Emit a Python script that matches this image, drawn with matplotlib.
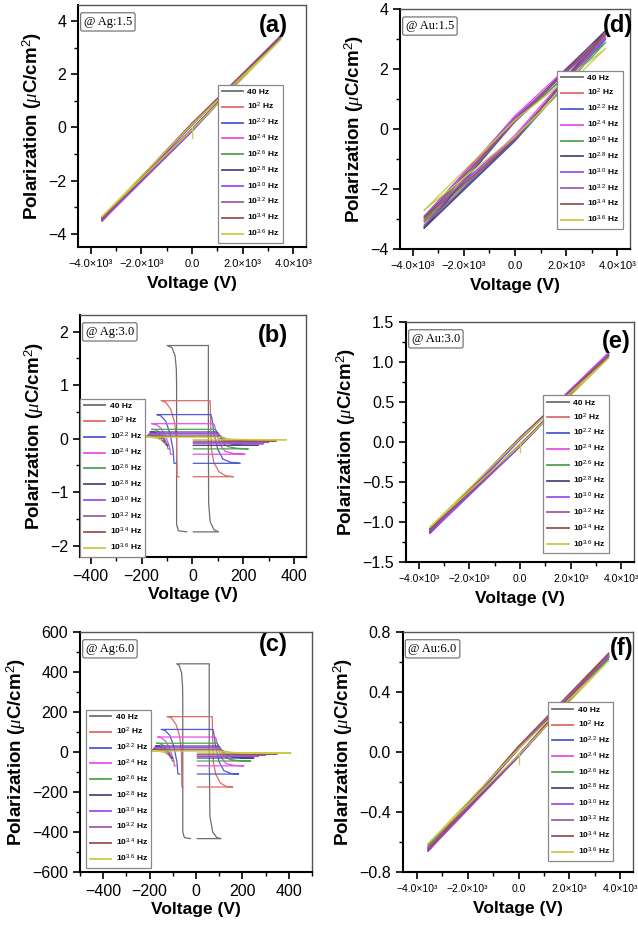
import matplotlib
matplotlib.use("Agg")
import matplotlib.pyplot as plt
from matplotlib.ticker import MultipleLocator

plt.rcParams["font.family"] = ["Liberation Sans", "DejaVu Sans"]
plt.rcParams["mathtext.fontset"] = "custom"
plt.rcParams["mathtext.rm"] = "Liberation Sans"
plt.rcParams["mathtext.it"] = "Liberation Serif:italic"
plt.rcParams["mathtext.bf"] = "Liberation Sans:bold"

# frequencies (legend) and colours
LABELS = ["40 Hz", "10$^{2}$ Hz", "10$^{2.2}$ Hz", "10$^{2.4}$ Hz", "10$^{2.6}$ Hz",
          "10$^{2.8}$ Hz", "10$^{3.0}$ Hz", "10$^{3.2}$ Hz", "10$^{3.4}$ Hz", "10$^{3.6}$ Hz"]
COLORS = ["#6e6e6e", "#e06a6a", "#4b5bd4", "#e651e6", "#4fa24f",
          "#4a4a78", "#9a4ff0", "#9b5fa8", "#9c4f4f", "#c9c94a"]

# (a) Ag:1.5 -- thin linear loops
V_A = [-3550, 0, 3500, 0, -3550]
P_A = [
    [-3.45, 0.12, 3.40, -0.10, -3.45],
    [-3.40, 0.15, 3.35, -0.05, -3.40],
    [-3.50, 0.08, 3.42, -0.15, -3.50],
    [-3.42, 0.13, 3.38, -0.08, -3.42],
    [-3.38, 0.10, 3.32, -0.10, -3.38],
    [-3.48, 0.10, 3.45, -0.12, -3.48],
    [-3.52, 0.12, 3.44, -0.14, -3.52],
    [-3.45, 0.14, 3.40, -0.09, -3.45],
    [-3.44, 0.16, 3.42, -0.06, -3.44],
    [-3.35, 0.11, 3.30, -0.09, -3.35],
]
SPIKE_A = ([0, 0], [0.0, -0.4])

# (d) Au:1.5
V_D = [-3550, 0, 3550, 0, -3550]
P_D = [
    [-3.25, 0.35, 3.20, -0.30, -3.25],
    [-3.10, 0.40, 3.10, -0.25, -3.10],
    [-3.30, 0.25, 3.00, -0.40, -3.30],
    [-3.00, 0.45, 3.25, -0.20, -3.00],
    [-3.05, 0.30, 2.90, -0.35, -3.05],
    [-3.30, 0.30, 3.30, -0.35, -3.30],
    [-2.90, 0.40, 3.05, -0.25, -2.90],
    [-3.20, 0.30, 3.15, -0.30, -3.20],
    [-2.95, 0.25, 3.20, -0.35, -2.95],
    [-2.70, 0.30, 2.70, -0.25, -2.70],
]

# (e) Au:3.0
V_E = [-3550, 0, 3500, 0, -3550]
P_E = [
    [-1.10, 0.05, 1.08, -0.03, -1.10],
    [-1.12, 0.04, 1.10, -0.05, -1.12],
    [-1.13, 0.03, 1.09, -0.06, -1.13],
    [-1.11, 0.05, 1.12, -0.04, -1.11],
    [-1.08, 0.04, 1.06, -0.04, -1.08],
    [-1.12, 0.03, 1.10, -0.05, -1.12],
    [-1.14, 0.04, 1.11, -0.05, -1.14],
    [-1.10, 0.05, 1.09, -0.04, -1.10],
    [-1.09, 0.06, 1.08, -0.03, -1.09],
    [-1.06, 0.04, 1.05, -0.04, -1.06],
]
SPIKE_E = ([0, 0], [0.0, -0.12])

# (f) Au:6.0
V_F = [-3550, 0, 3550, 0, -3550]
P_F = [
    [-0.64, 0.03, 0.64, -0.02, -0.64],
    [-0.66, 0.02, 0.66, -0.03, -0.66],
    [-0.65, 0.02, 0.63, -0.03, -0.65],
    [-0.63, 0.03, 0.65, -0.02, -0.63],
    [-0.62, 0.02, 0.62, -0.02, -0.62],
    [-0.65, 0.02, 0.64, -0.03, -0.65],
    [-0.66, 0.03, 0.65, -0.03, -0.66],
    [-0.64, 0.03, 0.64, -0.02, -0.64],
    [-0.65, 0.04, 0.66, -0.02, -0.65],
    [-0.61, 0.02, 0.61, -0.02, -0.61],
]
SPIKE_F = ([0, 0], [0.0, -0.08])

# (b) Ag:3.0 -- square-like loops
V_B = [
    [4, 103, 85, 70, 64, 63, 63, -99, -80, -68, -63, -62, -62, -55, -22],
    [4, 161, 130, 105, 85, 75, 72, 70, -123, -105, -85, -70, -62, -60, -52],
    [4, 188, 150, 120, 100, 85, 78, 73, -140, -125, -105, -88, -76, -72, -64],
    [4, 207, 165, 130, 110, 95, 88, 83, -160, -145, -125, -105, -90, -86, -78],
    [4, 220, 175, 140, 118, 102, 94, 89, -160, -145, -128, -112, -100, -96, -89],
    [4, 260, 200, 155, 125, 108, 100, 95, -167, -150, -132, -117, -106, -102, -95],
    [4, 280, 215, 165, 132, 112, 103, 98, -170, -155, -137, -122, -111, -107, -100],
    [4, 300, 230, 175, 140, 115, 105, 100, -175, -160, -142, -127, -116, -112, -105],
    [4, 330, 250, 185, 145, 120, 110, 105, -185, -168, -150, -134, -122, -118, -111],
    [4, 370, 280, 200, 155, 125, 115, 110, -190, -172, -155, -138, -127, -123, -116],
]
P_B = [
    [-1.74, -1.74, -1.70, -1.55, -1.20, 0.0, 1.74, 1.74, 1.70, 1.55, 1.30, 1.00, -1.60, -1.72, -1.74],
    [-0.71, -0.71, -0.69, -0.62, -0.45, -0.20, 0.30, 0.71, 0.71, 0.68, 0.55, 0.30, 0.0, -0.71, -0.71],
    [-0.46, -0.46, -0.44, -0.38, -0.20, 0.10, 0.35, 0.45, 0.45, 0.43, 0.33, 0.10, -0.20, -0.46, -0.46],
    [-0.29, -0.29, -0.28, -0.24, -0.12, 0.10, 0.24, 0.28, 0.28, 0.27, 0.20, 0.05, -0.15, -0.29, -0.29],
    [-0.19, -0.19, -0.18, -0.15, -0.07, 0.08, 0.15, 0.175, 0.175, 0.165, 0.12, 0.03, -0.10, -0.19, -0.19],
    [-0.125, -0.125, -0.12, -0.10, -0.05, 0.05, 0.11, 0.125, 0.125, 0.12, 0.08, 0.02, -0.07, -0.125, -0.125],
    [-0.095, -0.095, -0.09, -0.075, -0.04, 0.04, 0.09, 0.10, 0.10, 0.095, 0.065, 0.015, -0.05, -0.095, -0.095],
    [-0.07, -0.07, -0.066, -0.055, -0.03, 0.03, 0.065, 0.07, 0.07, 0.066, 0.045, 0.01, -0.035, -0.07, -0.07],
    [-0.045, -0.045, -0.042, -0.035, -0.02, 0.02, 0.04, 0.045, 0.045, 0.043, 0.03, 0.008, -0.02, -0.045, -0.045],
    [-0.02, -0.02, -0.019, -0.015, -0.008, 0.01, 0.025, 0.03, 0.03, 0.029, 0.02, 0.005, -0.01, -0.02, -0.02],
]

# (c) Ag:6.0
V_C = [
    [6, 108, 90, 72, 60, 57, 57, -83, -72, -62, -58, -57, -57, -50, -24],
    [6, 158, 130, 105, 85, 75, 72, 70, -125, -105, -85, -70, -63, -61, -55],
    [6, 184, 150, 120, 100, 85, 78, 73, -150, -133, -112, -95, -82, -78, -70],
    [6, 207, 165, 130, 110, 95, 88, 83, -165, -150, -130, -112, -97, -93, -86],
    [6, 236, 185, 145, 120, 104, 95, 90, -170, -155, -136, -120, -106, -102, -95],
    [6, 250, 195, 155, 125, 108, 100, 95, -175, -158, -140, -125, -112, -108, -101],
    [6, 270, 210, 165, 132, 112, 103, 98, -180, -163, -145, -130, -117, -113, -106],
    [6, 300, 230, 175, 140, 115, 105, 100, -185, -168, -150, -135, -122, -118, -111],
    [6, 350, 260, 190, 148, 120, 110, 105, -190, -172, -155, -140, -127, -123, -116],
    [6, 410, 300, 210, 160, 125, 115, 110, -195, -178, -160, -145, -132, -128, -121],
]
P_C = [
    [-433, -433, -428, -400, -320, 0, 441, 441, 432, 395, 330, 250, -400, -428, -433],
    [-175, -175, -172, -155, -110, -50, 75, 177, 177, 170, 135, 75, 0, -175, -175],
    [-110, -110, -107, -93, -50, 25, 85, 113, 113, 108, 82, 25, -50, -110, -110],
    [-69, -69, -67, -58, -30, 25, 62, 75, 75, 72, 53, 12, -37, -69, -69],
    [-45, -45, -43, -37, -18, 20, 38, 44, 44, 42, 30, 8, -25, -45, -45],
    [-30, -30, -29, -24, -12, 12, 26, 30, 30, 29, 20, 5, -17, -30, -30],
    [-22, -22, -21, -18, -9, 9, 20, 23, 23, 22, 15, 3, -12, -22, -22],
    [-15, -15, -14, -12, -6, 6, 13, 15, 15, 14, 10, 2, -8, -15, -15],
    [-10, -10, -9.5, -8, -4, 4, 9, 10, 10, 9.5, 7, 1, -5, -10, -10],
    [-5, -5, -4.8, -4, -2, 2, 4.5, 5, 5, 4.8, 3.5, 0.5, -2.5, -5, -5],
]

KV_TICKS = [-4000, -2000, 0, 2000, 4000]
KV_TICKLABELS = ["\u22124.0\u00d710\u00b3", "\u22122.0\u00d710\u00b3", "0.0",
                 "2.0\u00d710\u00b3", "4.0\u00d710\u00b3"]
V_TICKS = [-400, -200, 0, 200, 400]


def style_axes(ax, xsize=11.5, xpad=2):
    for side in ["left", "bottom"]:
        ax.spines[side].set_linewidth(1.5)
        ax.spines[side].set_color("black")
    for side in ["top", "right"]:
        ax.spines[side].set_linewidth(1.0)
        ax.spines[side].set_color("#555555")
    ax.tick_params(which="major", direction="out", length=5, width=1.2, labelsize=11.5)
    ax.tick_params(which="minor", direction="out", length=3, width=1.0)
    ax.tick_params(axis="x", labelsize=xsize)
    ax.set_xlabel("Voltage (V)", fontsize=12.5, fontweight="bold", labelpad=xpad)
    ax.set_ylabel("Polarization ($\\mu$C/cm$^2$)", fontsize=13.5, fontweight="bold", labelpad=3)


def draw_panel(ax, volts, pols, spike=None):
    for i, p in enumerate(pols):
        v = volts[i] if isinstance(volts[0], list) else volts
        ax.plot(v, p, color=COLORS[i], lw=0.9, label=LABELS[i])
    if spike is not None:
        ax.plot(spike[0], spike[1], color=COLORS[-1], lw=0.9)


def add_legend(ax, loc, anchor):
    leg = ax.legend(loc=loc, bbox_to_anchor=anchor, borderaxespad=0,
                    prop={"weight": "bold", "size": 6}, labelspacing=0.55,
                    handlelength=2.6, handletextpad=0.5, borderpad=0.45,
                    fancybox=False, framealpha=1, edgecolor="#888888")
    leg.get_frame().set_linewidth(0.9)
    for line in leg.get_lines():
        line.set_linewidth(1.3)


def add_tags(ax, sample, letter, lx, ly):
    ax.text(0.025, 0.955, sample, transform=ax.transAxes, ha="left", va="top",
            fontsize=9, family="Liberation Serif",
            bbox=dict(boxstyle="round,pad=0.25,rounding_size=0.15", fc="white",
                      ec="#777777", lw=0.9))
    ax.text(lx, ly, letter, transform=ax.transAxes, ha="center", va="center",
            fontsize=17, fontweight="bold", clip_on=False)


fig = plt.figure(figsize=(6.38, 9.27), dpi=100)

# (a)
ax = fig.add_axes([0.1223, 0.7335, 0.3574, 0.2611])
draw_panel(ax, V_A, P_A, SPIKE_A)
ax.set_xlim(-4500, 4500)
ax.set_ylim(-4.5, 4.6)
ax.set_xticks(KV_TICKS, KV_TICKLABELS)
ax.set_yticks([-4, -2, 0, 2, 4])
ax.xaxis.set_minor_locator(MultipleLocator(1000))
ax.yaxis.set_minor_locator(MultipleLocator(1))
style_axes(ax, 8, 5)
add_legend(ax, "lower right", (0.90, 0.017))
add_tags(ax, "@ Ag:1.5", "(a)", 0.855, 0.917)

# (d)
ax = fig.add_axes([0.627, 0.7314, 0.3605, 0.2586])
draw_panel(ax, V_D, P_D)
ax.set_xlim(-4500, 4500)
ax.set_ylim(-4, 4)
ax.set_xticks(KV_TICKS, KV_TICKLABELS)
ax.set_yticks([-4, -2, 0, 2, 4])
ax.xaxis.set_minor_locator(MultipleLocator(1000))
ax.yaxis.set_minor_locator(MultipleLocator(1))
style_axes(ax, 8, 5)
add_legend(ax, "lower right", (0.968, 0.083))
add_tags(ax, "@ Au:1.5", "(d)", 0.948, 0.933)

# (b)
ax = fig.add_axes([0.1254, 0.3991, 0.3542, 0.2611])
draw_panel(ax, V_B, P_B)
ax.set_xlim(-442, 447)
ax.set_ylim(-2.21, 2.31)
ax.set_xticks(V_TICKS)
ax.set_yticks([-2, -1, 0, 1, 2])
ax.xaxis.set_minor_locator(MultipleLocator(100))
ax.yaxis.set_minor_locator(MultipleLocator(0.5))
style_axes(ax)
add_legend(ax, "lower left", (0.0, 0.0))
add_tags(ax, "@ Ag:3.0", "(b)", 0.854, 0.917)

# (e)
ax = fig.add_axes([0.6364, 0.3937, 0.3574, 0.2589])
draw_panel(ax, V_E, P_E, SPIKE_E)
ax.set_xlim(-4500, 4500)
ax.set_ylim(-1.5, 1.5)
ax.set_xticks(KV_TICKS, KV_TICKLABELS)
ax.set_yticks([-1.5, -1.0, -0.5, 0.0, 0.5, 1.0, 1.5])
ax.xaxis.set_minor_locator(MultipleLocator(1000))
ax.yaxis.set_minor_locator(MultipleLocator(0.25))
style_axes(ax, 7.5, 5)
add_legend(ax, "lower right", (0.889, 0.036))
add_tags(ax, "@ Au:3.0", "(e)", 0.924, 0.918)

# (c)
ax = fig.add_axes([0.1254, 0.0593, 0.3636, 0.2589])
draw_panel(ax, V_C, P_C)
ax.set_xlim(-500, 500)
ax.set_ylim(-600, 600)
ax.set_xticks(V_TICKS)
ax.set_yticks([-600, -400, -200, 0, 200, 400, 600])
ax.xaxis.set_minor_locator(MultipleLocator(100))
ax.yaxis.set_minor_locator(MultipleLocator(100))
style_axes(ax)
add_legend(ax, "lower left", (0.026, 0.017))
add_tags(ax, "@ Ag:6.0", "(c)", 0.832, 0.946)

# (f)
ax = fig.add_axes([0.6312, 0.0593, 0.361, 0.2589])
draw_panel(ax, V_F, P_F, SPIKE_F)
ax.set_xlim(-4550, 4500)
ax.set_ylim(-0.8, 0.8)
ax.set_xticks(KV_TICKS, KV_TICKLABELS)
ax.set_yticks([-0.8, -0.4, 0.0, 0.4, 0.8])
ax.xaxis.set_minor_locator(MultipleLocator(1000))
ax.yaxis.set_minor_locator(MultipleLocator(0.2))
style_axes(ax, 7.5, 5)
add_legend(ax, "lower right", (0.915, 0.047))
add_tags(ax, "@ Au:6.0", "(f)", 0.952, 0.932)

fig.savefig("out.png", dpi=100)
